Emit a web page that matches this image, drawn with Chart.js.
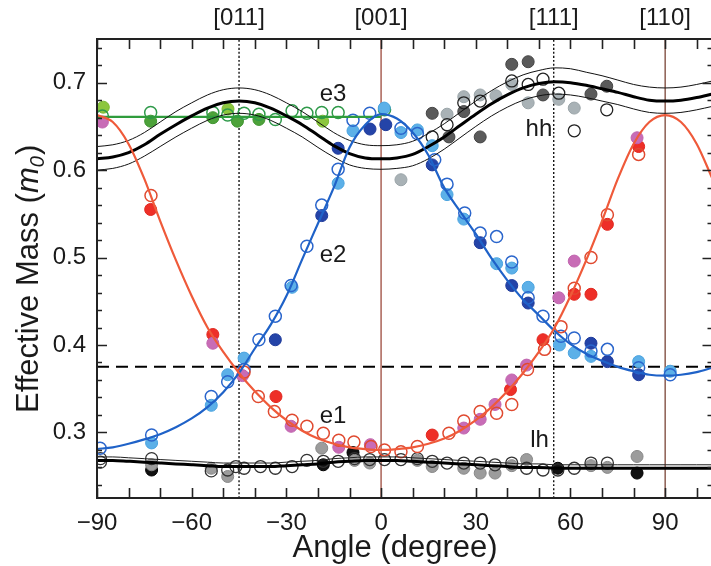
<!DOCTYPE html>
<html>
<head>
<meta charset="utf-8">
<title>Effective mass vs angle</title>
<script src="https://cdn.jsdelivr.net/npm/chart.js@4.4.0/dist/chart.umd.min.js"></script>
<style>
  html, body { margin: 0; padding: 0; background: #fff; overflow: hidden; }
  #wrap { width: 720px; height: 566px; }
</style>
</head>
<body>
<div id="wrap"><canvas id="massChart"></canvas></div>
<script>
// ---- fitted curves, sampled every 5 degrees ----
const curveAngles = [-90, -85, -80, -75, -70, -65, -60, -55, -50, -45, -40, -35, -30, -25, -20, -15, -10, -5, 0,
    5, 10, 15, 20, 25, 30, 35, 40, 45, 50, 55, 60, 65, 70, 75, 80, 85, 90, 95, 100, 105];

const e1Curve = [0.663, 0.655, 0.630, 0.590, 0.542, 0.497, 0.456, 0.420, 0.392, 0.368, 0.347, 0.329, 0.314, 0.302, 0.293, 0.287, 0.283, 0.281, 0.280,
    0.281, 0.283, 0.287, 0.293, 0.302, 0.314, 0.329, 0.347, 0.368, 0.392, 0.420, 0.456, 0.497, 0.542, 0.590, 0.630, 0.655, 0.663, 0.655, 0.630, 0.590];
const e2Curve = [0.281, 0.283, 0.287, 0.292, 0.298, 0.306, 0.316, 0.329, 0.346, 0.368, 0.396, 0.423, 0.456, 0.498, 0.539, 0.580, 0.626, 0.652, 0.664,
    0.659, 0.643, 0.617, 0.580, 0.553, 0.527, 0.499, 0.474, 0.452, 0.434, 0.416, 0.401, 0.390, 0.382, 0.375, 0.370, 0.366, 0.365, 0.366, 0.369, 0.374];
const hhCurve = [0.613, 0.615, 0.620, 0.629, 0.641, 0.652, 0.662, 0.671, 0.677, 0.679, 0.677, 0.671, 0.662, 0.652, 0.640, 0.628, 0.619, 0.614, 0.613,
    0.614, 0.618, 0.627, 0.638, 0.651, 0.664, 0.676, 0.686, 0.694, 0.699, 0.701, 0.700, 0.697, 0.693, 0.689, 0.684, 0.680, 0.679, 0.680, 0.683, 0.687];
const hhUpper = [0.627, 0.629, 0.634, 0.643, 0.655, 0.667, 0.677, 0.686, 0.692, 0.694, 0.692, 0.686, 0.677, 0.667, 0.655, 0.643, 0.634, 0.629, 0.628,
    0.629, 0.633, 0.642, 0.653, 0.666, 0.679, 0.691, 0.701, 0.709, 0.714, 0.717, 0.716, 0.712, 0.708, 0.703, 0.698, 0.695, 0.694, 0.695, 0.698, 0.702];
const hhLower = [0.600, 0.602, 0.607, 0.616, 0.627, 0.638, 0.648, 0.657, 0.663, 0.665, 0.663, 0.657, 0.648, 0.638, 0.626, 0.615, 0.606, 0.602, 0.601,
    0.602, 0.605, 0.613, 0.624, 0.637, 0.650, 0.662, 0.672, 0.680, 0.685, 0.687, 0.686, 0.683, 0.679, 0.675, 0.670, 0.666, 0.665, 0.666, 0.669, 0.673];
const lhCurve = [0.268, 0.268, 0.267, 0.266, 0.265, 0.264, 0.263, 0.262, 0.261, 0.261, 0.261, 0.261, 0.262, 0.263, 0.264, 0.266, 0.267, 0.268, 0.268,
    0.268, 0.267, 0.266, 0.265, 0.264, 0.263, 0.262, 0.261, 0.260, 0.260, 0.259, 0.259, 0.259, 0.259, 0.259, 0.259, 0.259, 0.259, 0.259, 0.259, 0.259];
const lhUpper = [0.272, 0.272, 0.271, 0.270, 0.269, 0.268, 0.267, 0.266, 0.265, 0.265, 0.265, 0.265, 0.266, 0.267, 0.268, 0.270, 0.271, 0.272, 0.272,
    0.272, 0.271, 0.270, 0.269, 0.268, 0.267, 0.266, 0.265, 0.264, 0.264, 0.263, 0.263, 0.263, 0.263, 0.263, 0.263, 0.263, 0.263, 0.263, 0.263, 0.263];

// flat e3 level and reference lines
const e3LevelAngles = [-90, 0];
const e3Level = 0.661;
const crossMass = 0.375;
const dirAngles = [-45, 0, 54.7, 90];
const dirLabels = ['[011]', '[001]', '[111]', '[110]'];

// ---- measured points: [angle, mass] ----
const e1RedFilled = [[-73, 0.555], [-53.3, 0.412], [-33.3, 0.341], [16.2, 0.297], [41, 0.349], [51.3, 0.406], [61.2, 0.458], [66.5, 0.458], [71.7, 0.538], [81.6, 0.627]];
const e1PinkFilled = [[-88.3, 0.655], [-53.3, 0.402], [-43.9, 0.365], [-28.5, 0.307], [-13.4, 0.283], [-3.4, 0.286], [26.2, 0.305], [31.4, 0.315], [36.1, 0.332],
    [41.4, 0.360], [46.1, 0.377], [56.3, 0.454], [61.2, 0.496], [81.1, 0.637]];
const e1Open = [[-72.9, 0.571], [-43.4, 0.369], [-38.9, 0.341], [-33.8, 0.324], [-28.2, 0.314], [-23.5, 0.307], [-18.3, 0.299], [-13.4, 0.291], [-8.6, 0.289],
    [-3.2, 0.284], [1.1, 0.280], [6.3, 0.278], [11.5, 0.284], [21.5, 0.299], [26.2, 0.313], [31.4, 0.324], [36.6, 0.322], [41.4, 0.332], [46.4, 0.372],
    [51.8, 0.395], [57, 0.421], [61.2, 0.465], [66.5, 0.500], [71.7, 0.549], [81.6, 0.618]];

const e2DarkFilled = [[-33.5, 0.406], [-18.8, 0.548], [-13.6, 0.625], [-3.5, 0.647], [1.5, 0.652], [16.2, 0.606], [31.4, 0.517], [41.4, 0.468], [46.6, 0.448],
    [66.5, 0.402], [71.7, 0.381], [81.6, 0.366]];
const e2LightFilled = [[-72.7, 0.288], [-53.8, 0.331], [-48.6, 0.366], [-43.4, 0.385], [-28.2, 0.466], [-13.6, 0.585], [-8.9, 0.645], [1, 0.671], [6.3, 0.643],
    [11.5, 0.646], [16.2, 0.628], [20.9, 0.572], [26.2, 0.544], [36.6, 0.493], [41.4, 0.488], [46.6, 0.466], [56.5, 0.400], [61.2, 0.391], [66.5, 0.387],
    [81.6, 0.381], [91.6, 0.370]];
const e2Open = [[-89, 0.282], [-72.7, 0.297], [-53.8, 0.341], [-48.6, 0.358], [-43.4, 0.372], [-38.7, 0.406], [-33.5, 0.433], [-28.5, 0.468], [-23.5, 0.513],
    [-18.8, 0.560], [-13.6, 0.601], [-8.9, 0.657], [-3.6, 0.665], [6.3, 0.648], [11.5, 0.642], [17, 0.612], [20.9, 0.584], [26.5, 0.551], [31.4, 0.528],
    [36.6, 0.524], [41.4, 0.495], [46.6, 0.454], [51.3, 0.433], [57, 0.410], [61.2, 0.408], [66.5, 0.393], [71.7, 0.395], [81.6, 0.374], [91.6, 0.366]];

const e3LightFilled = [[-88, 0.672], [-48.5, 0.670], [-18.5, 0.656]];
const e3DarkFilled = [[-73, 0.656], [-53.3, 0.660], [-45.5, 0.656], [-38.7, 0.658]];
const e3Open = [[-88.3, 0.662], [-73, 0.666], [-53.3, 0.666], [-48.6, 0.663], [-43.4, 0.665], [-38.7, 0.664], [-33.5, 0.658], [-28.2, 0.668], [-23.5, 0.665],
    [-18.8, 0.666], [-13.6, 0.666], [1.1, 0.669]];

const hhDarkFilled = [[16.2, 0.665], [21.5, 0.638], [26.2, 0.667], [31.4, 0.638], [41.4, 0.721], [46.6, 0.724], [51.3, 0.686], [66.5, 0.687], [71.5, 0.696]];
const hhLightFilled = [[6.3, 0.589], [20.9, 0.664], [26.2, 0.684], [31.4, 0.686], [36.4, 0.685], [41.4, 0.698], [46.6, 0.677], [56.3, 0.681], [61.2, 0.671]];
const hhOpen = [[16.2, 0.638], [20.9, 0.652], [26.2, 0.677], [31.4, 0.679], [41.4, 0.702], [46.6, 0.698], [51.3, 0.704], [56.3, 0.688], [61.2, 0.645], [71.5, 0.669]];

const lhBlackFilled = [[-72.7, 0.257], [-18.3, 0.263], [-8.9, 0.277], [56, 0.259], [81.1, 0.2535]];
const lhGreyFilled = [[-72.7, 0.263], [-53.8, 0.259], [-48.6, 0.2496], [-18.8, 0.282], [-8.4, 0.268], [-3.6, 0.265], [11.5, 0.268], [16.2, 0.261], [26.2, 0.259],
    [31.4, 0.2535], [36.1, 0.2535], [41.4, 0.262], [46.1, 0.269], [66.5, 0.262], [71.7, 0.260], [81.1, 0.2725]];
const lhOpen = [[-88.9, 0.270], [-88.9, 0.266], [-72.7, 0.270], [-53.8, 0.256], [-48.6, 0.257], [-46, 0.261], [-43.4, 0.259], [-38.2, 0.261], [-33.5, 0.259],
    [-28.2, 0.261], [-23.5, 0.268], [-18.3, 0.267], [-13.6, 0.267], [-8.4, 0.270], [-3.6, 0.269], [1.1, 0.269], [6.3, 0.269], [11.5, 0.270], [16.2, 0.267],
    [20.9, 0.265], [26.2, 0.265], [31.4, 0.265], [36.1, 0.263], [41.4, 0.265], [46.1, 0.259], [51.3, 0.257], [56, 0.257], [61.2, 0.259], [66.5, 0.265], [71.7, 0.265]];

// axis ranges and labelled ticks
const angleMin = -90, angleMax = 105;
const massMin = 0.225, massMax = 0.75;
const angleTicks = [-90, -60, -30, 0, 30, 60, 90];
const massTicks = [0.3, 0.4, 0.5, 0.6, 0.7];

const FONT = "'Liberation Sans', Arial, Helvetica, sans-serif";
const INK = '#1a1a1a';

function pts(pairs) {
    return pairs.map(p => ({x: p[0], y: p[1]}));
}
function curve(values) {
    return values.map((v, i) => ({x: curveAngles[i], y: v}));
}
function lineSet(data, color, width, dash) {
    return {
        data: data, showLine: true, borderColor: color, borderWidth: width,
        borderDash: dash || [], pointRadius: 0, cubicInterpolationMode: 'monotone', fill: false
    };
}
function dotSet(pairs, fill, stroke, width) {
    return {
        data: pts(pairs), showLine: false, pointRadius: 6, pointHoverRadius: 6,
        pointBackgroundColor: fill, pointBorderColor: stroke, pointBorderWidth: width
    };
}
function vline(angle, color, dash) {
    return lineSet([{x: angle, y: massMin}, {x: angle, y: massMax}], color, 1.3, dash);
}

const datasets = [
    // fitted curves on top
    lineSet(curve(e1Curve), '#ef5a3a', 2.2),
    lineSet(curve(e2Curve), '#1f62c8', 2.2),
    lineSet(curve(hhCurve), '#000', 3),
    lineSet(curve(hhUpper), '#111', 1),
    lineSet(curve(hhLower), '#111', 1),
    lineSet(curve(lhCurve), '#000', 3),
    lineSet(curve(lhUpper), '#222', 1),
    lineSet(e3LevelAngles.map(a => ({x: a, y: e3Level})), '#2f9c3c', 2.2),

    // measurements
    dotSet(e1Open, 'rgba(0,0,0,0)', '#e04a30', 1.5),
    dotSet(e1PinkFilled, '#c86cb6', '#c064ae', 1),
    dotSet(e1RedFilled, '#ee2f28', '#e0281f', 1),
    dotSet(e2Open, 'rgba(0,0,0,0)', '#2b66cc', 1.5),
    dotSet(e2LightFilled, '#5cb0e8', '#4aa3df', 1),
    dotSet(e2DarkFilled, '#2444a8', '#1e3a9a', 1),
    dotSet(e3Open, 'rgba(0,0,0,0)', '#2f9a4a', 1.5),
    dotSet(e3LightFilled, '#8cc63e', '#7ab832', 1),
    dotSet(e3DarkFilled, '#4da23a', '#3f9430', 1),
    dotSet(hhOpen, 'rgba(0,0,0,0)', '#222', 1.3),
    dotSet(hhLightFilled, '#a9b2b6', '#9aa4a8', 1),
    dotSet(hhDarkFilled, '#5a5a5a', '#444', 1),
    dotSet(lhOpen, 'rgba(0,0,0,0)', '#333', 1.3),
    dotSet(lhGreyFilled, '#9c9c9c', '#888', 1),
    dotSet(lhBlackFilled, '#111', '#000', 1),

    // reference lines underneath
    vline(-45, '#000', [2, 2]),
    vline(54.7, '#000', [2, 2]),
    vline(0, '#9c4a3c'),
    vline(90, '#7a4436'),
    lineSet([{x: angleMin, y: crossMass}, {x: angleMax, y: crossMass}], '#000', 2, [12, 7])
];

// frame, inward ticks, axis titles and curve tags
const decorations = {
    id: 'decorations',
    afterDraw(chart) {
        const {ctx, chartArea: a, scales} = chart;
        const xs = scales.x, ys = scales.y;
        ctx.save();
        ctx.strokeStyle = '#222';
        ctx.lineWidth = 1.6;
        ctx.beginPath();
        for (let v = -90; v <= 100; v += 10) {
            const px = Math.round(xs.getPixelForValue(v)) + 0.5;
            ctx.moveTo(px, a.bottom); ctx.lineTo(px, a.bottom - 10);
            ctx.moveTo(px, a.top); ctx.lineTo(px, a.top + 10);
        }
        for (let i = 12; i <= 37; i++) {
            const py = Math.round(ys.getPixelForValue(i * 0.02)) + 0.5;
            const len = i % 5 === 0 ? 10 : 5;
            ctx.moveTo(a.left, py); ctx.lineTo(a.left + len, py);
            ctx.moveTo(a.right, py); ctx.lineTo(a.right - len, py);
        }
        ctx.stroke();
        ctx.lineWidth = 2;
        ctx.strokeRect(a.left, a.top, a.right - a.left, a.bottom - a.top);

        ctx.fillStyle = INK;
        // x title
        ctx.font = '31px ' + FONT;
        ctx.textAlign = 'center';
        ctx.textBaseline = 'alphabetic';
        ctx.fillText('Angle (degree)', 395, 557);

        // y title with italic m and subscript 0
        ctx.translate(38, 413);
        ctx.rotate(-Math.PI / 2);
        ctx.textAlign = 'left';
        let w = 0;
        ctx.font = '31px ' + FONT;
        ctx.fillText('Effective Mass (', w, 0);
        w += ctx.measureText('Effective Mass (').width;
        ctx.font = 'italic 31px ' + FONT;
        ctx.fillText('m', w, 0);
        w += ctx.measureText('m').width;
        ctx.font = 'italic 20px ' + FONT;
        ctx.fillText('0', w, 6);
        w += ctx.measureText('0').width + 1;
        ctx.font = '31px ' + FONT;
        ctx.fillText(')', w, 0);
        ctx.setTransform(1, 0, 0, 1, 0, 0);

        // curve tags
        ctx.font = '24px ' + FONT;
        ctx.textAlign = 'center';
        ctx.textBaseline = 'middle';
        chart.options.plugins.decorations.tags.forEach(t => {
            ctx.fillText(t.text, xs.getPixelForValue(t.x), ys.getPixelForValue(t.y));
        });
        ctx.restore();
    }
};

Chart.defaults.font.family = FONT;
Chart.defaults.color = INK;

new Chart(document.getElementById('massChart'), {
    type: 'scatter',
    data: {datasets: datasets},
    plugins: [decorations],
    options: {
        responsive: true,
        maintainAspectRatio: false,
        animation: false,
        layout: {padding: {left: 0, right: 2, top: 0, bottom: 0}},
        plugins: {
            legend: {display: false},
            tooltip: {enabled: false},
            decorations: {
                tags: [
                    {text: 'e3', x: -15.2, y: 0.687},
                    {text: 'e2', x: -15.2, y: 0.502},
                    {text: 'e1', x: -15.2, y: 0.318},
                    {text: 'hh', x: 50, y: 0.647},
                    {text: 'lh', x: 50.2, y: 0.291}
                ]
            }
        },
        scales: {
            x: {
                type: 'linear', position: 'bottom', min: angleMin, max: angleMax,
                grid: {display: false, drawTicks: false}, border: {display: false},
                ticks: {
                    padding: 11, font: {size: 24}, color: INK, autoSkip: false, maxRotation: 0,
                    callback: v => (v < 0 ? '\u2212' + Math.abs(v) : String(v))
                },
                afterBuildTicks: s => { s.ticks = angleTicks.map(v => ({value: v})); },
                afterFit: s => { s.height = 68; }
            },
            x2: {
                type: 'linear', position: 'top', min: angleMin, max: angleMax,
                grid: {display: false, drawTicks: false}, border: {display: false},
                ticks: {
                    padding: 6, font: {size: 24}, color: INK, autoSkip: false, maxRotation: 0,
                    callback: (v, i) => dirLabels[i]
                },
                afterBuildTicks: s => { s.ticks = dirAngles.map(v => ({value: v})); },
                afterFit: s => { s.height = 39; }
            },
            y: {
                type: 'linear', position: 'left', min: massMin, max: massMax,
                grid: {display: false, drawTicks: false}, border: {display: false},
                ticks: {padding: 11, font: {size: 24}, color: INK, callback: v => v.toFixed(1)},
                afterBuildTicks: s => { s.ticks = massTicks.map(v => ({value: v})); },
                afterFit: s => { s.width = 97; }
            }
        }
    }
});
</script>
</body>
</html>
